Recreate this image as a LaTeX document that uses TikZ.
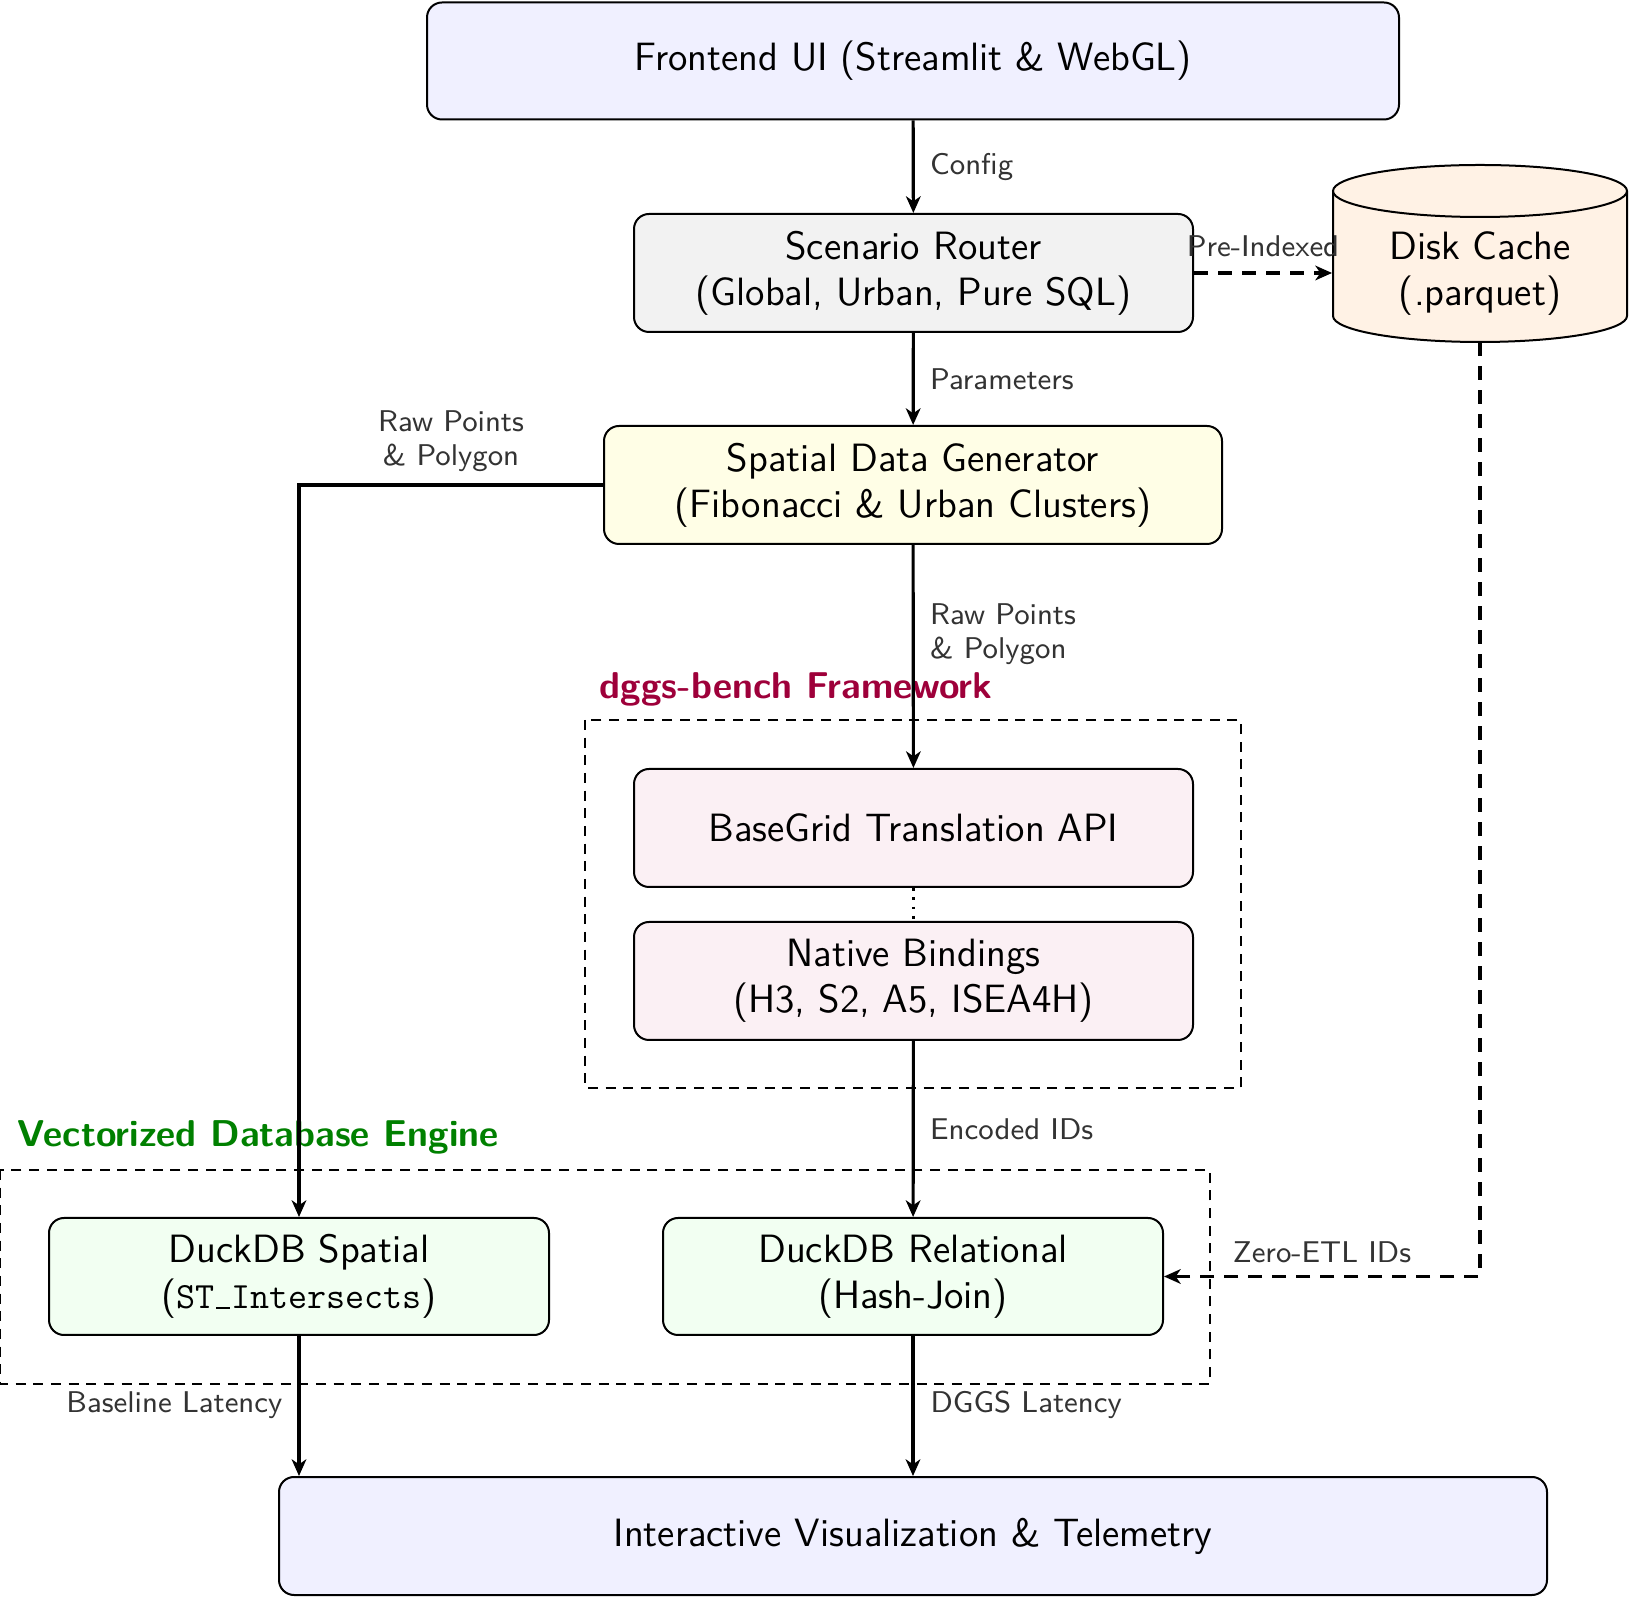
\documentclass[tikz,border=0pt]{standalone}
\usetikzlibrary{arrows.meta}
\definecolor{dggsred}{RGB}{158,0,58}
\definecolor{labgray}{RGB}{51,51,51}
\begin{document}
\begin{tikzpicture}[x=0.3pt,y=-0.3pt,
  box/.style={draw, line width=0.6pt, rounded corners=4.5pt, align=center, inner sep=0pt,
    font=\sffamily\fontsize{11.85}{13.8}\selectfont},
  conn/.style={line width=0.95pt, -{Stealth[length=5pt,width=4.4pt,inset=1.5pt]}},
  dconn/.style={conn, dash pattern=on 4.2pt off 3pt},
  lab/.style={font=\sffamily\fontsize{9}{10.2}\selectfont, text=labgray, align=left, inner sep=0pt},
  grp/.style={line width=0.45pt, dash pattern=on 3pt off 2.3pt},
  title/.style={font=\sffamily\bfseries\fontsize{11.2}{13}\selectfont, anchor=west, inner sep=0pt}]
\useasboundingbox (0,0) rectangle (1629,1597);

% group boxes
\draw[grp] (585,720) rectangle (1241,1088);
\draw[grp] (0,1170) rectangle (1210,1384);
\node[title, text=dggsred] (tdggs) at (599,689) {dggs-bench Framework};
\node[title, text=green!50!black] (tdb) at (17,1137) {Vectorized Database Engine};

% nodes
\node[box, fill=blue!6, minimum width=291.6pt, minimum height=35.1pt] (front) at (913,61) {Frontend UI (Streamlit \& WebGL)};
\node[box, fill=gray!10, minimum width=167.7pt, minimum height=35.4pt] (router) at (913.5,273) {Scenario Router\\(Global, Urban, Pure SQL)};
\node[box, fill=yellow!10, minimum width=185.4pt, minimum height=35.4pt] (gen) at (913,485) {Spatial Data Generator\\(Fibonacci \& Urban Clusters)};
\node[box, fill=purple!6, minimum width=167.7pt, minimum height=35.4pt] (base) at (913.5,828) {BaseGrid Translation API};
\node[box, fill=purple!6, minimum width=167.7pt, minimum height=35.4pt] (native) at (913.5,981) {Native Bindings\\(H3, S2, A5, ISEA4H)};
\node[box, fill=green!5, minimum width=150pt, minimum height=35.1pt] (spatial) at (299,1276.5) {DuckDB Spatial\\({\ttfamily\fontsize{11.1}{13.8}\selectfont ST\kern0.06em\rule{0.36em}{0.045em}\kern0.04em Intersects})};
\node[box, fill=green!5, minimum width=150pt, minimum height=35.1pt] (rel) at (913,1276.5) {DuckDB Relational\\(Hash-Join)};
\node[box, fill=blue!6, minimum width=380.4pt, minimum height=35.4pt] (viz) at (913,1536) {Interactive Visualization \& Telemetry};

% disk cache cylinder
\fill[orange!10] (1333,191) rectangle (1627,316);
\fill[orange!10] (1480,316) ellipse[x radius=44.1pt, y radius=7.8pt];
\draw[line width=0.6pt] (1333,191) -- (1333,316) arc[start angle=180, end angle=360, x radius=44.1pt, y radius=7.8pt] -- (1627,191);
\draw[line width=0.6pt, fill=orange!10] (1480,191) ellipse[x radius=44.1pt, y radius=7.8pt];
\node[box, draw=none, rounded corners=0pt, minimum width=88.2pt, minimum height=52.8pt] (cache) at (1480,253.5) {};
\node[font=\sffamily\fontsize{11.85}{13.8}\selectfont, align=center, inner sep=0pt] (cachetxt) at (1480,274) {Disk Cache\\(.parquet)};

% connectors
\draw[conn] (front) -- node[lab, anchor=west, xshift=4.6pt] {Config} (router);
\draw[conn] (router) -- node[lab, anchor=west, xshift=4.6pt] {Parameters} (gen);
\draw[dconn] (router.east) -- node[lab, anchor=south, yshift=4.3pt] {Pre-Indexed} (router.east -| cache.west);
\coordinate (gl) at (299,485);
\draw[conn] (gen.west) -- (gl) -- (spatial.north);
\node[lab, align=center] (lraw) at (451,441) {Raw Points\\\& Polygon};
\draw[conn] (gen) -- node[lab, anchor=west, xshift=4.6pt, pos=0.4] {Raw Points\\\& Polygon} (base);
\draw[line width=0.8pt, dotted] (base) -- (native);
\draw[conn] (native) -- node[lab, anchor=west, xshift=4.6pt, pos=0.5] {Encoded IDs} (rel);
\coordinate (cc) at (1480,1276.5);
\draw[dconn] (cache.south) -- (cc) -- (rel.east);
\node[lab] (lzero) at (1322,1252) {Zero-ETL IDs};
\draw[conn] (spatial.south) -- (spatial.south |- viz.north);
\node[lab, anchor=east] (lbase) at (283,1405) {Baseline Latency};
\draw[conn] (rel.south) -- (viz.north);
\node[lab, anchor=west] (ldggs) at (930,1405) {DGGS Latency};
\end{tikzpicture}
\end{document}
